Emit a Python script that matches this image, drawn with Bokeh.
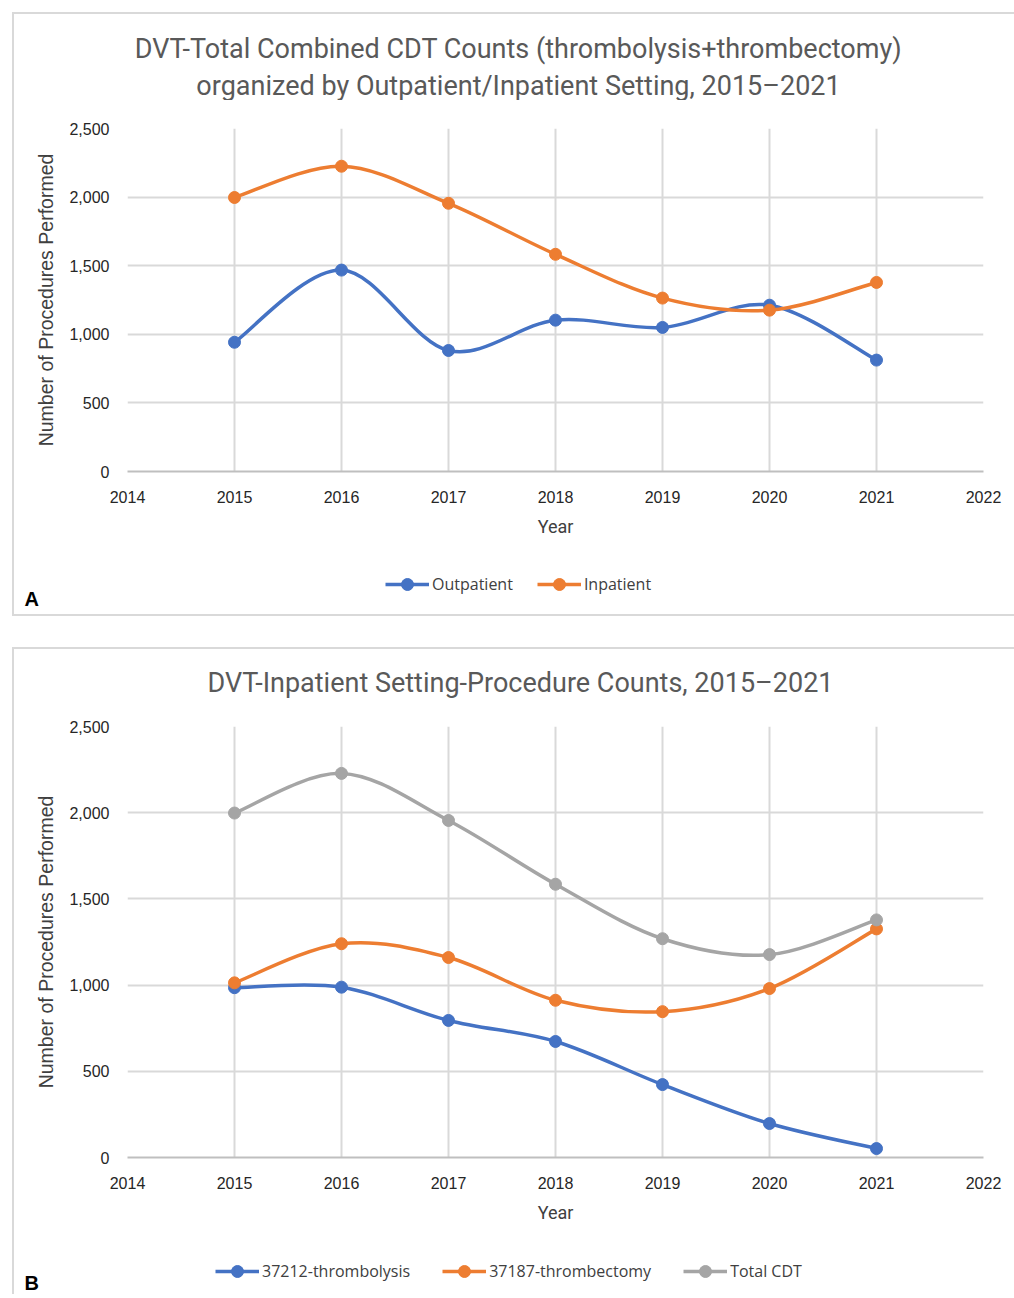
from bokeh.plotting import figure
from bokeh.models import (Legend, LegendItem, Label, FixedTicker,
                          NumeralTickFormatter, PrintfTickFormatter, Range1d,
                          InlineStyleSheet)
from bokeh.layouts import column
from bokeh.embed import file_html
from bokeh.resources import INLINE

# ---------------- data ----------------
years = [2015, 2016, 2017, 2018, 2019, 2020, 2021]
x_ticks = [2014, 2015, 2016, 2017, 2018, 2019, 2020, 2021, 2022]
y_ticks = [0, 500, 1000, 1500, 2000, 2500]

outpatient = [942, 1468, 882, 1103, 1050, 1212, 812]
inpatient = [1997, 2225, 1955, 1583, 1264, 1176, 1378]

thrombolysis = [985, 988, 795, 673, 423, 197, 52]
thrombectomy = [1013, 1240, 1160, 912, 846, 980, 1326]
total_cdt = [1998, 2228, 1955, 1585, 1269, 1177, 1378]

title_a = ["DVT-Total Combined CDT Counts (thrombolysis+thrombectomy)",
           "organized by Outpatient/Inpatient Setting, 2015\u20132021"]
title_b = ["DVT-Inpatient Setting-Procedure Counts, 2015\u20132021"]
series_a = [("Outpatient", outpatient, "#4472C4"), ("Inpatient", inpatient, "#ED7D31")]
series_b = [("37212-thrombolysis", thrombolysis, "#4472C4"),
            ("37187-thrombectomy", thrombectomy, "#ED7D31"),
            ("Total CDT", total_cdt, "#A5A5A5")]

TITLE_FONT = "Roboto"
TICK_FONT = "Liberation Sans"
LEG_FONT = "Open Sans"
W = 1010
FRAME_L = 127
FRAME_R = W - 983
BOTTOM = 72
BORDER = "2.5px solid #D9D9D9"
GLYPH_H = 30


def css(top=None, bottom=None):
    parts = ["content:''", "position:absolute", "left:12px", "right:-4px",
             "pointer-events:none", "z-index:50", "border-left:" + BORDER]
    parts.append("top:%dpx" % (top if top is not None else 0))
    parts.append("bottom:%dpx" % (bottom if bottom is not None else 0))
    if top is not None:
        parts.append("border-top:" + BORDER)
    if bottom is not None:
        parts.append("border-bottom:" + BORDER)
    return InlineStyleSheet(css=":host::after{" + ";".join(parts) + ";}")


def smooth_segments(xs, ys, t=1.0 / 6.0):
    n = len(xs)
    out = {k: [] for k in ("x0", "y0", "x1", "y1", "cx0", "cy0", "cx1", "cy1")}
    for i in range(n - 1):
        pm = i - 1 if i > 0 else i
        pp = i + 2 if i + 2 < n else i + 1
        out["x0"].append(xs[i]); out["y0"].append(ys[i])
        out["x1"].append(xs[i + 1]); out["y1"].append(ys[i + 1])
        out["cx0"].append(xs[i] + (xs[i + 1] - xs[pm]) * t)
        out["cy0"].append(ys[i] + (ys[i + 1] - ys[pm]) * t)
        out["cx1"].append(xs[i + 1] - (xs[pp] - xs[i]) * t)
        out["cy1"].append(ys[i + 1] - (ys[pp] - ys[i]) * t)
    return out


def make_strip(height, stylesheet):
    s = figure(width=W, height=height, output_backend="svg", toolbar_location=None,
               x_range=Range1d(0, W), y_range=Range1d(0, height),
               x_axis_location=None, y_axis_location=None,
               min_border=0, min_border_left=0, min_border_right=0,
               min_border_top=0, min_border_bottom=0, frame_align=False)
    s.grid.visible = False
    s.outline_line_color = None
    s.background_fill_color = "white"
    s.border_fill_color = "white"
    s.stylesheets = [stylesheet]
    return s


def make_title_strip(height, titles, center_x, ys, border_top):
    s = make_strip(height, css(top=border_top))
    for txt, ty in zip(titles, ys):
        s.add_layout(Label(x=center_x, y=ty, text=txt, text_align="center",
                           text_baseline="middle", text_font=TITLE_FONT,
                           text_font_size="27px", text_color="#595959"))
    return s


def make_main(height, frame_top, series):
    p = figure(width=W, height=height, output_backend="svg", toolbar_location=None,
               x_range=Range1d(2014, 2022), y_range=Range1d(0, 2500),
               min_border_left=FRAME_L, min_border_right=FRAME_R,
               min_border_top=frame_top, min_border_bottom=BOTTOM)
    p.outline_line_color = None
    p.background_fill_color = "white"
    p.border_fill_color = "white"
    p.stylesheets = [css()]

    p.xaxis.ticker = FixedTicker(ticks=x_ticks)
    p.xaxis.formatter = PrintfTickFormatter(format="%d")
    p.yaxis.ticker = FixedTicker(ticks=y_ticks)
    p.yaxis.formatter = NumeralTickFormatter(format="0,0")
    for ax in (p.xaxis[0], p.yaxis[0]):
        ax.major_tick_line_color = None
        ax.minor_tick_line_color = None
        ax.major_label_text_font = TICK_FONT
        ax.major_label_text_font_size = "16px"
        ax.major_label_text_color = "#262626"
        ax.axis_label_text_font_style = "normal"
        ax.axis_label_text_color = "#404040"
    p.xaxis.axis_line_color = "#BFBFBF"
    p.xaxis.axis_line_width = 2
    p.yaxis.axis_line_color = None
    p.xaxis.major_label_standoff = 13
    p.yaxis.major_label_standoff = 12
    p.xaxis.axis_label = "Year"
    p.xaxis.axis_label_text_font = TITLE_FONT
    p.xaxis.axis_label_text_font_size = "18px"
    p.xaxis.axis_label_standoff = 10
    p.yaxis.axis_label = "Number of Procedures Performed"
    p.yaxis.axis_label_text_font = TICK_FONT
    p.yaxis.axis_label_text_font_size = "19.5px"
    p.yaxis.axis_label_standoff = 9

    p.xgrid.ticker = FixedTicker(ticks=x_ticks)
    p.ygrid.ticker = FixedTicker(ticks=y_ticks)
    p.xgrid.grid_line_color = "#D9D9D9"
    p.ygrid.grid_line_color = "#D9D9D9"
    p.xgrid.grid_line_width = 2
    p.ygrid.grid_line_width = 2

    for name, vals, color in series:
        seg = smooth_segments(years, vals)
        p.bezier(x0=seg["x0"], y0=seg["y0"], x1=seg["x1"], y1=seg["y1"],
                 cx0=seg["cx0"], cy0=seg["cy0"], cx1=seg["cx1"], cy1=seg["cy1"],
                 line_color=color, line_width=3.5)
        p.scatter(x=years, y=vals, size=12, fill_color=color, line_color=color)
    return p


def make_legend_strip(height, series, legend_x, legend_center, spacing,
                      letter, letter_y, border_bottom):
    s = make_strip(height, css(bottom=border_bottom))
    items = []
    for name, vals, color in series:
        # legend proxies: same data, lying outside this strip's visible range
        lr = s.line(x=years, y=vals, line_color=color, line_width=3.5)
        sr = s.scatter(x=years, y=vals, size=12, fill_color=color, line_color=color)
        items.append(LegendItem(label=name, renderers=[lr, sr]))
    leg = Legend(items=items, orientation="horizontal",
                 location=(legend_x, legend_center - GLYPH_H / 2),
                 glyph_width=44, glyph_height=GLYPH_H, label_standoff=3, spacing=spacing,
                 padding=0, margin=0, border_line_color=None,
                 background_fill_alpha=0,
                 label_text_font=LEG_FONT, label_text_font_size="16px",
                 label_text_color="#404040")
    s.add_layout(leg, "center")
    s.add_layout(Label(x=24, y=letter_y, text=letter, text_align="left",
                       text_baseline="middle", text_font=TICK_FONT,
                       text_font_style="bold", text_font_size="20px",
                       text_color="black"))
    return s


# page layout (y from top, px)
TA = 100                     # title strip A: 0..100
HA = 471 + BOTTOM - TA       # main A: 100..543 (frame 128..471)
SA = 632 - 543               # legend strip A: 543..632
TB = 74                      # title strip B: 632..706
HB = 1157 + BOTTOM - 706     # main B: 706..1229 (frame 726..1157)
SB = 1294 - 1229             # legend strip B: 1229..1294

ta = make_title_strip(TA, title_a, 518, [TA - 48, TA - 85], 12)
pa = make_main(HA, 128 - TA, series_a)
sa = make_legend_strip(SA, series_a, 385, SA - (584 - 543), 24,
                       "A", SA - (598 - 543), 632 - 616)
tb = make_title_strip(TB, title_b, 520, [TB - (682 - 632)], 15)
pb = make_main(HB, 726 - 706, series_b)
sb = make_legend_strip(SB, series_b, 215, SB - (1271 - 1229), 32,
                       "B", SB - (1282 - 1229), None)

layout = column(ta, pa, sa, tb, pb, sb, spacing=0)
open("out.html", "w").write(file_html(layout, INLINE))
